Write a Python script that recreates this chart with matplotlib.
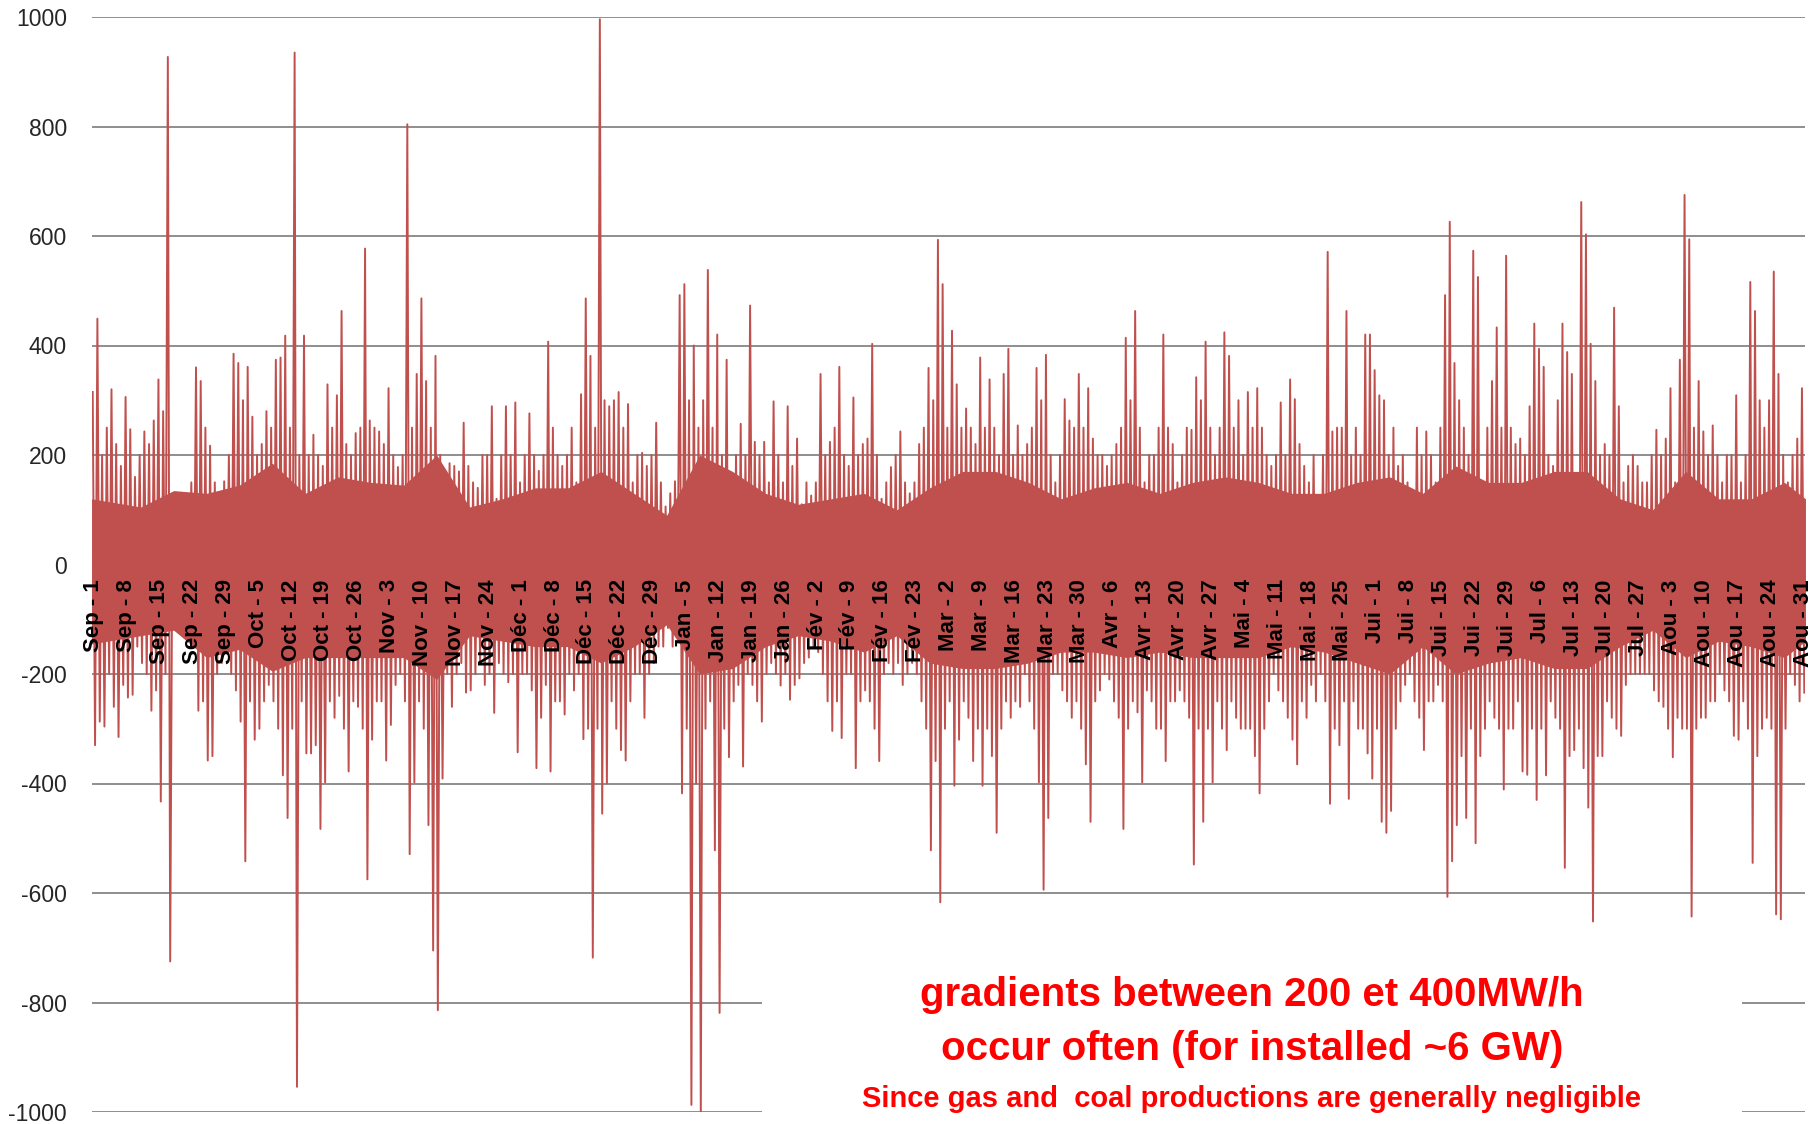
import numpy as np
import matplotlib
matplotlib.use("Agg")
import matplotlib.pyplot as plt
from matplotlib.patches import Rectangle

# Daily maximum / minimum hourly gradient (MW/h), Sep 1 -> Aug 31
day_max = [
    315, 449, 200, 250, 320, 220, 180,
    306, 247, 160, 200, 243, 220, 263,
    338, 280, 927, 130, 106, 100, 110,
    150, 360, 335, 250, 217, 150, 120,
    152, 200, 385, 368, 300, 361, 270,
    200, 220, 280, 250, 374, 378, 418,
    250, 935, 200, 418, 200, 237, 200,
    180, 329, 250, 309, 463, 220, 200,
    240, 250, 577, 263, 250, 243, 220,
    322, 200, 178, 200, 804, 250, 348,
    486, 335, 250, 381, 200, 126, 185,
    180, 170, 259, 180, 150, 140, 200,
    200, 289, 120, 200, 289, 200, 296,
    150, 200, 276, 200, 171, 200, 407,
    250, 200, 180, 200, 250, 150, 311,
    486, 381, 250, 996, 300, 289, 300,
    315, 250, 293, 150, 200, 204, 180,
    200, 259, 150, 106, 130, 152, 492,
    512, 300, 400, 250, 300, 538, 250,
    420, 200, 374, 165, 200, 257, 200,
    473, 224, 200, 224, 150, 298, 200,
    150, 289, 180, 230, 110, 150, 126,
    150, 348, 200, 224, 250, 361, 200,
    180, 305, 200, 220, 230, 403, 200,
    120, 150, 178, 200, 243, 150, 130,
    150, 220, 250, 359, 300, 593, 512,
    250, 427, 329, 250, 285, 250, 220,
    378, 250, 338, 250, 200, 348, 394,
    200, 254, 200, 220, 250, 359, 300,
    383, 200, 150, 200, 302, 263, 250,
    348, 250, 322, 230, 200, 200, 180,
    200, 220, 250, 414, 300, 463, 250,
    150, 200, 200, 250, 420, 250, 220,
    150, 200, 250, 246, 342, 300, 407,
    250, 200, 250, 424, 381, 250, 300,
    200, 315, 250, 322, 250, 200, 180,
    200, 296, 200, 338, 302, 220, 180,
    150, 200, 120, 200, 571, 243, 250,
    250, 463, 200, 250, 200, 420, 420,
    355, 309, 300, 200, 250, 180, 200,
    150, 120, 250, 200, 243, 200, 150,
    250, 492, 626, 368, 300, 250, 200,
    573, 525, 150, 250, 335, 433, 250,
    564, 250, 220, 230, 200, 289, 440,
    394, 361, 200, 180, 300, 440, 388,
    348, 150, 662, 603, 403, 335, 200,
    220, 200, 469, 289, 150, 180, 200,
    180, 150, 150, 200, 246, 200, 230,
    322, 150, 374, 675, 594, 250, 335,
    243, 200, 254, 200, 150, 200, 200,
    309, 150, 200, 516, 463, 300, 250,
    300, 535, 348, 200, 150, 200, 230,
    322,
]
day_min = [
    -330, -287, -296, -200, -260, -315, -220,
    -243, -238, -150, -180, -200, -267, -230,
    -433, -200, -725, -110, -90, -80, -100,
    -150, -267, -250, -358, -350, -200, -180,
    -150, -200, -230, -287, -542, -250, -320,
    -300, -250, -220, -250, -300, -385, -463,
    -300, -954, -250, -345, -345, -330, -483,
    -398, -250, -280, -240, -300, -378, -250,
    -260, -300, -575, -320, -250, -250, -358,
    -293, -220, -200, -250, -529, -398, -250,
    -300, -476, -705, -814, -391, -200, -260,
    -200, -180, -234, -230, -200, -180, -220,
    -200, -271, -180, -200, -215, -200, -343,
    -200, -200, -230, -372, -280, -220, -378,
    -250, -250, -274, -200, -230, -200, -319,
    -300, -718, -300, -455, -400, -250, -300,
    -339, -358, -250, -200, -200, -280, -200,
    -180, -150, -150, -116, -150, -130, -418,
    -300, -987, -400, -1007, -300, -250, -522,
    -819, -300, -352, -250, -220, -369, -200,
    -220, -250, -287, -200, -180, -200, -221,
    -200, -247, -220, -208, -180, -170, -150,
    -160, -200, -250, -304, -250, -317, -200,
    -200, -372, -250, -230, -250, -300, -359,
    -200, -180, -200, -180, -220, -200, -180,
    -200, -250, -300, -522, -359, -617, -300,
    -250, -404, -320, -250, -280, -359, -300,
    -404, -300, -350, -490, -300, -250, -280,
    -250, -260, -200, -250, -300, -398, -594,
    -463, -200, -200, -230, -250, -280, -250,
    -300, -365, -470, -250, -230, -200, -210,
    -250, -280, -483, -300, -250, -270, -398,
    -230, -250, -300, -300, -359, -250, -250,
    -230, -250, -280, -548, -300, -470, -300,
    -398, -250, -300, -339, -250, -280, -300,
    -300, -300, -350, -418, -300, -250, -200,
    -230, -250, -280, -320, -365, -250, -280,
    -220, -250, -200, -250, -437, -300, -330,
    -250, -428, -250, -300, -300, -345, -391,
    -300, -470, -490, -450, -300, -250, -220,
    -200, -250, -280, -339, -250, -250, -220,
    -250, -607, -542, -476, -350, -463, -300,
    -509, -350, -300, -250, -280, -300, -411,
    -300, -300, -250, -378, -384, -300, -430,
    -300, -385, -250, -280, -300, -554, -350,
    -339, -300, -372, -444, -652, -350, -350,
    -250, -280, -300, -313, -220, -200, -200,
    -200, -200, -200, -230, -250, -260, -300,
    -352, -280, -300, -300, -643, -300, -280,
    -280, -250, -250, -200, -230, -250, -313,
    -320, -250, -300, -545, -350, -300, -280,
    -300, -639, -648, -300, -200, -220, -250,
    -234,
]
# Weekly extent of the dense core of hourly gradients (MW/h)
week_core_hi = [120, 105, 135, 130, 145, 185, 130, 160, 150,
                145, 200, 105, 120, 140, 140, 170, 130, 90,
                200, 170, 130, 110, 120, 130, 100, 140, 170,
                170, 150, 120, 140, 150, 130, 150, 160,
                150, 130, 130, 150, 160, 130, 180, 150, 150,
                170, 170, 120, 100, 170, 120, 120, 150, 120]
week_core_lo = [-145, -130, -120, -170, -155, -195, -170, -170, -170,
                -170, -210, -130, -140, -150, -150, -180, -150, -110,
                -200, -190, -150, -130, -140, -160, -130, -180, -190,
                -190, -180, -160, -160, -170, -160, -170, -170,
                -170, -150, -160, -180, -200, -150, -200, -180, -170,
                -190, -190, -150, -120, -170, -140, -150, -170, -140]

tick_labels = [
    "Sep - 1", "Sep - 8", "Sep - 15", "Sep - 22", "Sep - 29",
    "Oct - 5", "Oct - 12", "Oct - 19", "Oct - 26",
    "Nov - 3", "Nov - 10", "Nov - 17", "Nov - 24",
    "Déc - 1", "Déc - 8", "Déc - 15", "Déc - 22", "Déc - 29",
    "Jan - 5", "Jan - 12", "Jan - 19", "Jan - 26",
    "Fév - 2", "Fév - 9", "Fév - 16", "Fév - 23",
    "Mar - 2", "Mar - 9", "Mar - 16", "Mar - 23", "Mar - 30",
    "Avr - 6", "Avr - 13", "Avr - 20", "Avr - 27",
    "Mai - 4", "Mai - 11", "Mai - 18", "Mai - 25",
    "Jui - 1", "Jui - 8", "Jui - 15", "Jui - 22", "Jui - 29",
    "Jul - 6", "Jul - 13", "Jul - 20", "Jul - 27",
    "Aou - 3", "Aou - 10", "Aou - 17", "Aou - 24", "Aou - 31",
]
y_ticks = [-1000, -800, -600, -400, -200, 0, 200, 400, 600, 800, 1000]

annot_1 = "gradients between 200 et 400MW/h"
annot_2 = "occur often (for installed ~6 GW)"
annot_3 = "Since gas and  coal productions are generally negligible"

RED = "#C0504D"
n_days = len(day_max)

# daily zig-zag: max then min for every day
dmax = np.asarray(day_max, float)
dmin = np.asarray(day_min, float)
seq = np.stack([dmax, dmin], axis=1)
k = seq.shape[1]
x = (np.arange(n_days)[:, None] + (np.arange(k)[None, :] + 0.5) / k - 0.5).ravel()
y = seq.ravel()

# dense core: weekly readings placed at each week's middle day
n_weeks = len(week_core_hi)
xw = np.minimum(np.arange(n_weeks) * 7 + 3, n_days - 1).astype(float)
xw[0] = -0.5
xw[-1] = n_days - 0.5

W, H = 1818, 1124
fig = plt.figure(figsize=(W / 100, H / 100), dpi=100)
fig.patch.set_facecolor("white")
ax = fig.add_axes([92 / W, 1 - 1112 / H, (1805 - 92) / W, (1112 - 17) / H])

ax.fill_between(xw, week_core_lo, week_core_hi, color=RED, lw=0, zorder=3)
ax.plot(x, y, color=RED, lw=1.4, zorder=3)

ax.set_ylim(-1000, 1000)
ax.set_xlim(-0.4, n_days - 1 + 0.4)
ax.set_yticks(y_ticks)
ax.set_yticklabels([str(v) for v in y_ticks], fontsize=16.5,
                   family="Liberation Sans", color="#262626")
ax.tick_params(axis="y", length=0, pad=18)
ax.set_xticks([])
for s in ax.spines.values():
    s.set_visible(False)
ax.yaxis.grid(True, color="#868686", lw=1.3, zorder=0)
ax.set_axisbelow(True)

tick_pos = np.arange(len(tick_labels)) * 7
for xp, lab in zip(tick_pos, tick_labels):
    ax.text(xp, -27, lab, rotation=90, ha="center", va="top",
            fontsize=16, fontweight="bold", family="Liberation Sans",
            color="black", zorder=5)

# white text box covering the gridlines under the annotation
ax.add_patch(Rectangle((0.391, -0.05), 0.572, 0.193, transform=ax.transAxes,
                       facecolor="white", edgecolor="none", zorder=4, clip_on=False))
cx = (1252 - 92) / (1805 - 92)
ax.text(cx, (1112 - 995) / 1095, annot_1, transform=ax.transAxes, ha="center", va="center",
        fontsize=29, fontweight="bold", color="#FF0000", family="Liberation Sans", zorder=6)
ax.text(cx, (1112 - 1049) / 1095, annot_2, transform=ax.transAxes, ha="center", va="center",
        fontsize=29, fontweight="bold", color="#FF0000", family="Liberation Sans", zorder=6)
ax.text(cx, (1112 - 1099) / 1095, annot_3, transform=ax.transAxes, ha="center", va="center",
        fontsize=21, fontweight="bold", color="#FF0000", family="Liberation Sans", zorder=6,
        clip_on=False)

fig.savefig("out.png", dpi=100, facecolor="white")
